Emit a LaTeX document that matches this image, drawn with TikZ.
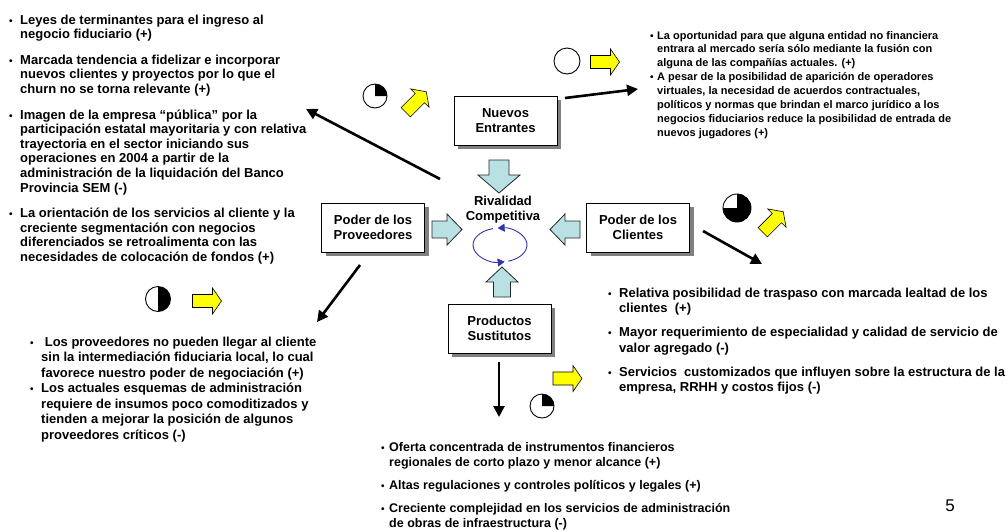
\documentclass[tikz,border=0pt]{standalone}
\usepackage{fontspec}
\setmainfont{Liberation Sans}
\usetikzlibrary{arrows.meta,shadows,calc}

\definecolor{yel}{RGB}{255,255,0}
\definecolor{lblue}{RGB}{185,224,226}
\definecolor{loopblue}{RGB}{51,51,170}
\definecolor{shadowgray}{RGB}{128,128,128}

% block arrow: style, x, y, angle, length, head width, shaft width, head length
\newcommand\blockarrow[8]{%
  \draw[#1,shift={(#2,#3)},rotate=#4]
    ({-#5/2},{-#7/2}) -- ({#5/2-#8},{-#7/2}) -- ({#5/2-#8},{-#6/2}) -- ({#5/2},0)
    -- ({#5/2-#8},{#6/2}) -- ({#5/2-#8},{#7/2}) -- ({-#5/2},{#7/2}) -- cycle;}

\newcommand\bl{{\fontsize{10}{10}\selectfont •}}

\tikzset{
  forcebox/.style={draw, line width=0.8pt, fill=white, minimum width=103pt,
    minimum height=49pt, align=center, inner sep=0pt,
    font=\fontsize{13}{15}\selectfont\bfseries,
    drop shadow={shadow xshift=4pt, shadow yshift=-4pt, fill=shadowgray, opacity=1}},
  textblock/.style={anchor=base west, inner sep=0pt},
  bigarrow/.style={line width=2.6pt, -{Triangle[length=11pt,width=11pt]}},
  yarrow/.style={fill=yel, draw=black, line width=0.6pt},
  barrow/.style={fill=lblue, draw=black!85, line width=0.8pt},
  looparc/.style={draw=loopblue, line width=0.9pt, -{Triangle[length=7pt,width=8pt]}},
  pie/.style={draw=black, line width=0.9pt, fill=white},
}

\begin{document}
\begin{tikzpicture}[x=1pt,y=-1pt]
\fill[white] (0,0) rectangle (1008,531);
\useasboundingbox (0,0) rectangle (1008,531);

% the five forces
\node[forcebox] (nuevos) at (505.5,120.5) {Nuevos\\Entrantes};
\node[forcebox] (prov) at (373,227.5) {Poder de los\\Proveedores};
\node[forcebox] (cli) at (638,227.5) {Poder de los\\Clientes};
\node[forcebox] (sust) at (499.5,328.5) {Productos\\Sustitutos};
\node[align=center, font=\fontsize{13}{15.5}\selectfont\bfseries] (rival) at (503,209.5) {Rivalidad\\Competitiva};

% block arrows towards the rivalry
\blockarrow{barrow}{499}{176.5}{-90}{33}{42}{20}{18}
\blockarrow{barrow}{447}{229.5}{0}{30}{31}{17}{15}
\blockarrow{barrow}{565}{229.5}{180}{30}{31}{17}{15}
\blockarrow{barrow}{502}{282}{90}{30}{32}{17}{15}

% rivalry loop
\coordinate (loop) at (500,245);
\draw[looparc] ($(loop)+(-72:27pt and 17pt)$) arc[start angle=-72,end angle=95,x radius=27pt,y radius=17pt];
\draw[looparc] ($(loop)+(105:27pt and 17pt)$) arc[start angle=105,end angle=280,x radius=27pt,y radius=17pt];

% arrows to the comments
\coordinate (a1s) at (440,179);  \coordinate (a1e) at (306,109);
\coordinate (a2s) at (565,98);   \coordinate (a2e) at (638,89);
\coordinate (a3s) at (360,265);  \coordinate (a3e) at (317,322);
\coordinate (a4s) at (703,231);  \coordinate (a4e) at (762,264);
\coordinate (a5s) at (499,362);  \coordinate (a5e) at (499,417);
\draw[bigarrow] (a1s) -- (a1e);
\draw[bigarrow] (a2s) -- (a2e);
\draw[bigarrow] (a3s) -- (a3e);
\draw[bigarrow] (a4s) -- (a4e);
\draw[bigarrow] (a5s) -- (a5e);

% intensity indicators
\coordinate (p1) at (375,96);
\draw[pie] (p1) circle[radius=12pt];
\fill (p1) -- ++(0:12pt) arc[start angle=0,end angle=90,radius=12pt] -- cycle;
\coordinate (p2) at (567,61);
\draw[pie] (p2) circle[radius=13pt];
\coordinate (p3) at (158,299);
\draw[pie] (p3) circle[radius=12.5pt];
\fill (p3) -- ++(-90:12.5pt) arc[start angle=-90,end angle=90,radius=12.5pt] -- cycle;
\coordinate (p4) at (737,208);
\draw[pie] (p4) circle[radius=14pt];
\fill (p4) -- ++(180:14pt) arc[start angle=180,end angle=450,radius=14pt] -- cycle;
\coordinate (p5) at (542,406);
\draw[pie] (p5) circle[radius=12pt];
\fill (p5) -- ++(0:12pt) arc[start angle=0,end angle=90,radius=12pt] -- cycle;

% trend arrows
\blockarrow{yarrow}{416}{102}{45}{29}{26}{13}{9}
\blockarrow{yarrow}{605}{62}{0}{29}{26}{13}{9}
\blockarrow{yarrow}{207}{301}{0}{29}{26}{13}{9}
\blockarrow{yarrow}{773}{222}{45}{29}{26}{13}{9}
\blockarrow{yarrow}{567.5}{378.5}{0}{29}{26}{13}{9}

% comments
\node[textblock] (tl) at (9,24) {\fontsize{13}{14.6}\selectfont\bfseries
\begin{tabular}[t]{@{}p{11pt}@{}l@{}}
\bl & Leyes de terminantes para el ingreso al\\
    & negocio fiduciario (+)\\[11pt]
\bl & Marcada tendencia a fidelizar e incorporar\\
    & nuevos clientes y proyectos por lo que el\\
    & churn no se torna relevante (+)\\[11pt]
\bl & Imagen de la empresa “pública” por la\\
    & participación estatal mayoritaria y con relativa\\
    & trayectoria en el sector iniciando sus\\
    & operaciones en 2004 a partir de la\\
    & administración de la liquidación del Banco\\
    & Provincia SEM (-)\\[11pt]
\bl & La orientación de los servicios al cliente y la\\
    & creciente segmentación con negocios\\
    & diferenciados se retroalimenta con las\\
    & necesidades de colocación de fondos (+)
\end{tabular}};

\node[textblock] (tr) at (650,39) {\fontsize{11}{13.9}\selectfont\bfseries
\begin{tabular}[t]{@{}p{7pt}@{}l@{}}
\bl & La oportunidad para que alguna entidad no financiera\\
    & entrara al mercado sería sólo mediante la fusión con\\
    & alguna de las compañías actuales. (+)\\
\bl & A pesar de la posibilidad de aparición de operadores\\
    & virtuales, la necesidad de acuerdos contractuales,\\
    & políticos y normas que brindan el marco jurídico a los\\
    & negocios fiduciarios reduce la posibilidad de entrada de\\
    & nuevos jugadores (+)
\end{tabular}};

\node[textblock] (bl) at (30,346) {\fontsize{13}{15.5}\selectfont\bfseries
\begin{tabular}[t]{@{}p{11pt}@{}l@{}}
\bl & \ Los proveedores no pueden llegar al cliente\\
    & sin la intermediación fiduciaria local, lo cual\\
    & favorece nuestro poder de negociación (+)\\
\bl & Los actuales esquemas de administración\\
    & requiere de insumos poco comoditizados y\\
    & tienden a mejorar la posición de algunos\\
    & proveedores críticos (-)
\end{tabular}};

\node[textblock] (cr) at (608,297) {\fontsize{13}{15.5}\selectfont\bfseries
\begin{tabular}[t]{@{}p{11pt}@{}l@{}}
\bl & Relativa posibilidad de traspaso con marcada lealtad de los\\
    & clientes\ \ (+)\\[8.5pt]
\bl & Mayor requerimiento de especialidad y calidad de servicio de\\
    & valor agregado (-)\\[8.5pt]
\bl & Servicios\ \ customizados que influyen sobre la estructura de la\\
    & empresa, RRHH y costos fijos (-)
\end{tabular}};

\node[textblock] (bt) at (381,451.5) {\fontsize{12.5}{15}\selectfont\bfseries
\begin{tabular}[t]{@{}p{8pt}@{}l@{}}
\bl & Oferta concentrada de instrumentos financieros\\
    & regionales de corto plazo y menor alcance (+)\\[8pt]
\bl & Altas regulaciones y controles políticos y legales (+)\\[8pt]
\bl & Creciente complejidad en los servicios de administración\\
    & de obras de infraestructura (-)
\end{tabular}};

\node[font=\fontsize{17}{17}\selectfont] (page) at (950,506) {5};
\end{tikzpicture}
\end{document}
